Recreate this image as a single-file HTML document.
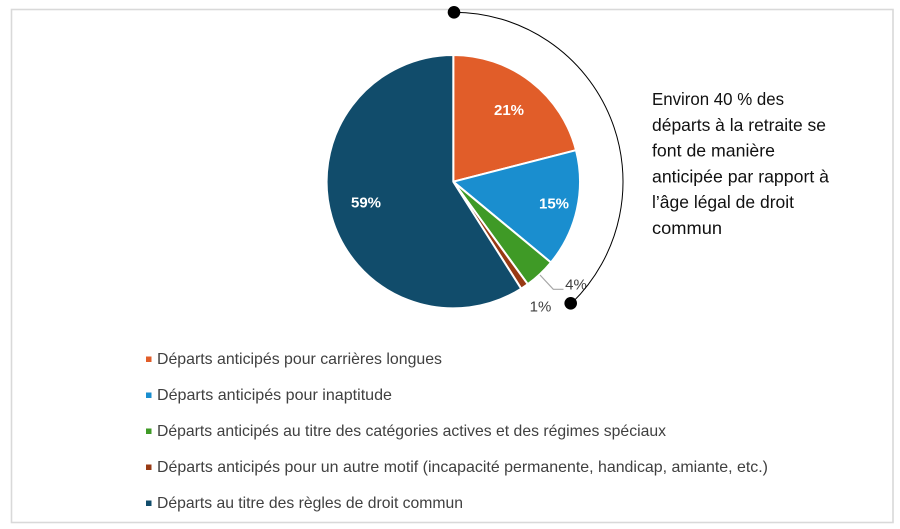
<!DOCTYPE html>
<html><head><meta charset="utf-8"><style>
html,body{margin:0;padding:0;background:#fff;}
svg{display:block;}
text{font-family:"Liberation Sans",Arial,sans-serif;}
</style></head><body>
<svg width="900" height="529" viewBox="0 0 900 529" xmlns="http://www.w3.org/2000/svg">
<rect x="0" y="0" width="900" height="529" fill="#fff"/>
<rect x="11.5" y="9.5" width="881.5" height="513" fill="none" stroke="#d9d9d9" stroke-width="1.6"/>
<g stroke="#fff" stroke-width="2" stroke-linejoin="round">
<path d="M453.3,181.7 L453.3,55 A126.7,126.7 0 0 1 576.02,150.19 Z" fill="#E15D29"/>
<path d="M453.3,181.7 L576.02,150.19 A126.7,126.7 0 0 1 550.92,262.46 Z" fill="#1A8ECF"/>
<path d="M453.3,181.7 L550.92,262.46 A126.7,126.7 0 0 1 527.77,284.2 Z" fill="#3F9A26"/>
<path d="M453.3,181.7 L527.77,284.2 A126.7,126.7 0 0 1 521.19,288.67 Z" fill="#983A14"/>
<path d="M453.3,181.7 L521.19,288.67 A126.7,126.7 0 1 1 453.3,55 Z" fill="#114C6B"/>
</g>
<g fill="#fff" font-size="15" font-weight="bold" text-anchor="middle">
<text x="509" y="115">21%</text>
<text x="554" y="208.3">15%</text>
<text x="366" y="207.5">59%</text>
</g>
<polyline points="540,275 553.3,289.3 563.5,289.3" fill="none" stroke="#a6a6a6" stroke-width="1.2"/>
<g fill="#404040" font-size="15" text-anchor="middle">
<text x="576" y="289.3">4%</text>
<text x="540.5" y="311.7">1%</text>
</g>
<path d="M453.5,12.2 A169.5,169.5 0 0 1 571.9,303" fill="none" stroke="#000" stroke-width="1"/>
<circle cx="454" cy="12.3" r="6.3" fill="#000"/>
<circle cx="570.7" cy="303.3" r="6.3" fill="#000"/>
<g fill="#111" font-size="17.2">
<text x="652" y="105" textLength="132" lengthAdjust="spacingAndGlyphs">Environ 40 % des</text>
<text x="652" y="130.8" textLength="174" lengthAdjust="spacingAndGlyphs">départs à la retraite se</text>
<text x="652" y="156.6" textLength="123" lengthAdjust="spacingAndGlyphs">font de manière</text>
<text x="652" y="182.4" textLength="177" lengthAdjust="spacingAndGlyphs">anticipée par rapport à</text>
<text x="652" y="208.2" textLength="142" lengthAdjust="spacingAndGlyphs">l’âge légal de droit</text>
<text x="652" y="234" textLength="70" lengthAdjust="spacingAndGlyphs">commun</text>
</g>
<rect x="146" y="356.5" width="5.5" height="5.5" fill="#E15D29"/>
<rect x="146" y="392.5" width="5.5" height="5.5" fill="#1A8ECF"/>
<rect x="146" y="428.5" width="5.5" height="5.5" fill="#3F9A26"/>
<rect x="146" y="464.5" width="5.5" height="5.5" fill="#983A14"/>
<rect x="146" y="500.5" width="5.5" height="5.5" fill="#114C6B"/>
<g fill="#404040" font-size="15.8">
<text x="157" y="364" textLength="285" lengthAdjust="spacingAndGlyphs">Départs anticipés pour carrières longues</text>
<text x="157" y="400" textLength="235" lengthAdjust="spacingAndGlyphs">Départs anticipés pour inaptitude</text>
<text x="157" y="436" textLength="509" lengthAdjust="spacingAndGlyphs">Départs anticipés au titre des catégories actives et des régimes spéciaux</text>
<text x="157" y="472" textLength="611" lengthAdjust="spacingAndGlyphs">Départs anticipés pour un autre motif (incapacité permanente, handicap, amiante, etc.)</text>
<text x="157" y="508" textLength="306" lengthAdjust="spacingAndGlyphs">Départs au titre des règles de droit commun</text>
</g>
</svg>
</body></html>
